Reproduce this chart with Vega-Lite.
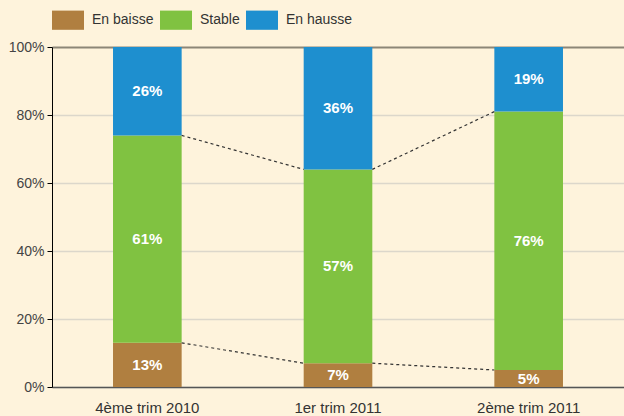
{
  "$schema": "https://vega.github.io/schema/vega-lite/v6.json",
  "width": 572,
  "height": 340,
  "autosize": "none",
  "padding": {"left": 52, "top": 47, "right": 0, "bottom": 29},
  "background": "#FEF3DC",
  "config": {
    "view": {"stroke": null},
    "font": "Liberation Sans",
    "axis": {"labelFont": "Liberation Sans", "titleFont": "Liberation Sans"},
    "legend": {"labelFont": "Liberation Sans"}
  },
  "datasets": {
    "parts": [
      {"periode": "4ème trim 2010", "categorie": "En baisse", "ordre": 1, "valeur": 13},
      {"periode": "4ème trim 2010", "categorie": "Stable", "ordre": 2, "valeur": 61},
      {"periode": "4ème trim 2010", "categorie": "En hausse", "ordre": 3, "valeur": 26},
      {"periode": "1er trim 2011", "categorie": "En baisse", "ordre": 1, "valeur": 7},
      {"periode": "1er trim 2011", "categorie": "Stable", "ordre": 2, "valeur": 57},
      {"periode": "1er trim 2011", "categorie": "En hausse", "ordre": 3, "valeur": 36},
      {"periode": "2ème trim 2011", "categorie": "En baisse", "ordre": 1, "valeur": 5},
      {"periode": "2ème trim 2011", "categorie": "Stable", "ordre": 2, "valeur": 76},
      {"periode": "2ème trim 2011", "categorie": "En hausse", "ordre": 3, "valeur": 19}
    ],
    "liens": [
      {"de": "4ème trim 2010", "a": "1er trim 2011", "y_de": 13, "y_a": 7},
      {"de": "1er trim 2011", "a": "2ème trim 2011", "y_de": 7, "y_a": 5},
      {"de": "4ème trim 2010", "a": "1er trim 2011", "y_de": 74, "y_a": 64},
      {"de": "1er trim 2011", "a": "2ème trim 2011", "y_de": 64, "y_a": 81}
    ]
  },
  "layer": [
    {
      "data": {"name": "parts"},
      "transform": [
        {"stack": "valeur", "groupby": ["periode"], "sort": [{"field": "ordre"}], "as": ["v0", "v1"]}
      ],
      "mark": {"type": "bar"},
      "encoding": {
        "x": {
          "field": "periode", "type": "nominal",
          "scale": {"domain": ["4ème trim 2010", "1er trim 2011", "2ème trim 2011"], "paddingInner": 0.64, "paddingOuter": 0.32},
          "axis": {
            "title": null, "labelAngle": 0, "labelFontSize": 15, "labelColor": "#333333",
            "domainColor": "#555555", "domainWidth": 1.5, "ticks": false, "labelPadding": 13
          }
        },
        "y": {
          "field": "v0", "type": "quantitative",
          "scale": {"domain": [0, 100]},
          "axis": {
            "title": null, "values": [0, 20, 40, 60, 80, 100],
            "labelExpr": "datum.value + '%'",
            "labelFontSize": 14, "labelColor": "#444444", "labelPadding": 3,
            "domainColor": "#000000", "tickColor": "#000000", "tickSize": 5,
            "gridColor": {"condition": {"test": "datum.value === 100", "value": "#8C8677"}, "value": "#DCD7CB"},
            "gridWidth": {"condition": {"test": "datum.value === 100", "value": 2}, "value": 1.5}
          }
        },
        "y2": {"field": "v1"},
        "color": {
          "field": "categorie", "type": "nominal",
          "scale": {"domain": ["En baisse", "Stable", "En hausse"], "range": ["#B07F40", "#80C241", "#1E8FCF"]},
          "legend": {
            "title": null, "orient": "none", "legendX": 0, "legendY": -43,
            "direction": "horizontal",
            "symbolType": "M-1,-0.6H1V0.6H-1Z", "symbolSize": 1024,
            "symbolStrokeWidth": 0, "symbolOpacity": 1,
            "labelFontSize": 14, "labelColor": "#333333", "labelOffset": 8,
            "columnPadding": 6
          }
        },
        "order": {"field": "ordre"}
      }
    },
    {
      "data": {"name": "parts"},
      "transform": [
        {"stack": "valeur", "groupby": ["periode"], "sort": [{"field": "ordre"}], "as": ["v0", "v1"]},
        {"calculate": "(datum.v0 + datum.v1) / 2", "as": "milieu"}
      ],
      "mark": {"type": "text", "color": "#FFFFFF", "fontWeight": "bold", "fontSize": 15, "text": {"expr": "datum.valeur + '%'"}},
      "encoding": {
        "x": {"field": "periode", "type": "nominal"},
        "y": {"field": "milieu", "type": "quantitative"}
      }
    },
    {
      "data": {"name": "liens"},
      "mark": {"type": "rule", "strokeDash": [3, 3], "color": "#333333", "strokeWidth": 1.2},
      "encoding": {
        "x": {"field": "de", "type": "nominal", "bandPosition": 1},
        "x2": {"field": "a", "bandPosition": 0},
        "y": {"field": "y_de", "type": "quantitative"},
        "y2": {"field": "y_a"}
      }
    }
  ]
}
